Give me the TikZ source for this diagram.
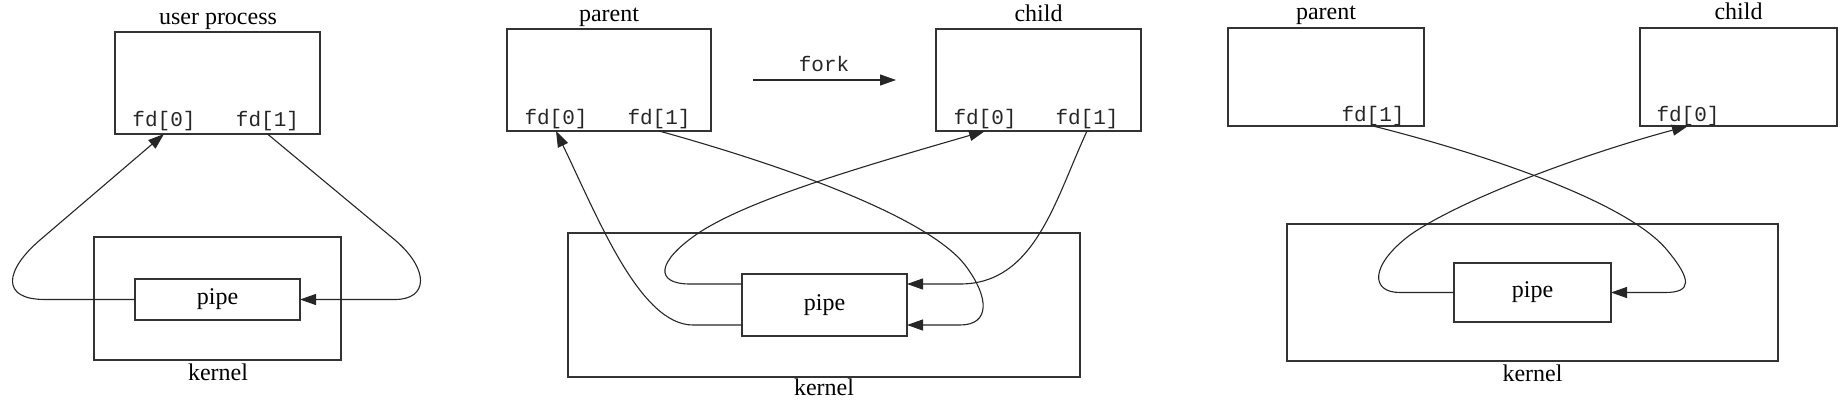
\documentclass[tikz,border=0pt]{standalone}
\usepackage{fontspec}
\setmainfont{Liberation Serif}
\setmonofont{Liberation Mono}
\usetikzlibrary{arrows.meta}
\begin{document}
\begin{tikzpicture}[x=1pt,y=-1pt,
  box/.style={draw=black!80,line width=1.2pt,inner sep=0pt,outer sep=0pt},
  pipebox/.style={box,font=\fontsize{24}{28}\selectfont},
  lbl/.style={font=\fontsize{24}{28}\selectfont,inner sep=0pt,anchor=base},
  fdl/.style={font=\ttfamily\fontsize{21}{24}\selectfont,inner sep=0pt,anchor=base,text=black!85},
  wire/.style={draw=black!85,line width=1.1pt},
  arr/.style={wire,-{Triangle[length=16pt,width=11pt]}}]
\useasboundingbox (0,0) rectangle (1842,402);

% ---------- panel 1 ----------
\node[box,minimum width=205pt,minimum height=102pt] (up) at (217.5,83) {};
\node[lbl] (upl) at (218,24) {user process};
\node[fdl] (a0) at (164,126) {fd[0]};
\node[fdl] (a1) at (267.5,126) {fd[1]};
\node[box,minimum width=247pt,minimum height=123pt] (k1) at (217.5,298.5) {};
\node[lbl] (k1l) at (218,380) {kernel};
\node[pipebox,minimum width=165pt,minimum height=41pt] (p1) at (217.5,299.5) {pipe};
\draw[arr] (p1.west) -- (45,299.5) .. controls (0,299.5) and (5,270) .. (40,240) -- (a0 |- up.south);
\draw[arr] (a1 |- up.south) -- (395,240) .. controls (430,270) and (428,299.5) .. (395,299.5) -- (p1.east);

% ---------- panel 2 ----------
\node[box,minimum width=204pt,minimum height=102pt] (par) at (609,80) {};
\node[lbl] (parl) at (609,21) {parent};
\node[fdl] (b0) at (556,124) {fd[0]};
\node[fdl] (b1) at (659,124) {fd[1]};
\node[box,minimum width=205pt,minimum height=102pt] (chi) at (1038.5,80) {};
\node[lbl] (chil) at (1038.5,21) {child};
\node[fdl] (c0) at (985,124) {fd[0]};
\node[fdl] (c1) at (1087,124) {fd[1]};
\node[fdl] (fk) at (824,71) {fork};
\coordinate (fka) at (753,80);
\coordinate (fkb) at (896,80);
\draw[arr] (fka) -- (fkb);
\node[box,minimum width=512pt,minimum height=144pt] (k2) at (824,305) {};
\node[lbl] (k2l) at (824,395) {kernel};
\node[pipebox,minimum width=165pt,minimum height=62pt] (p2) at (824.5,305) {pipe};
\path (p2.west) ++(0,-21) coordinate (p2wu);
\path (p2.west) ++(0,20) coordinate (p2wl);
\path (p2.east) ++(0,-21) coordinate (p2eu);
\path (p2.east) ++(0,20) coordinate (p2el);
\draw[arr] (p2wl) -- (693,325) .. controls (640,325) and (598,218) .. (b0 |- par.south);
\draw[arr] (p2wu) -- (690,284) .. controls (655,284) and (655,262) .. (700,232)
  .. controls (750,200) and (850,170) .. (c0 |- chi.south);
\draw[arr] (b1 |- par.south) .. controls (800,170) and (930,220) .. (965,265)
  .. controls (990,298) and (990,325) .. (960,325) -- (p2el);
\draw[arr] (c1 |- chi.south) .. controls (1055,200) and (1035,284) .. (960,284) -- (p2eu);

% ---------- panel 3 ----------
\node[box,minimum width=196pt,minimum height=98pt] (par3) at (1326,77) {};
\node[lbl] (par3l) at (1326,19) {parent};
\node[fdl] (d1) at (1373,121) {fd[1]};
\node[box,minimum width=197pt,minimum height=98pt] (chi3) at (1738.5,77) {};
\node[lbl] (chi3l) at (1738.5,19) {child};
\node[fdl] (e0) at (1688,121) {fd[0]};
\node[box,minimum width=491pt,minimum height=137pt] (k3) at (1532.5,292.5) {};
\node[lbl] (k3l) at (1532.5,381) {kernel};
\node[pipebox,minimum width=157pt,minimum height=59pt] (p3) at (1532.5,292.5) {pipe};
\draw[arr] (d1 |- par3.south) .. controls (1500,158) and (1630,205) .. (1667,250)
  .. controls (1692,280) and (1692,292.5) .. (1665,292.5) -- (p3.east);
\draw[arr] (p3.west) -- (1400,292.5) .. controls (1370,292.5) and (1370,265) .. (1410,235)
  .. controls (1460,200) and (1580,155) .. (e0 |- chi3.south);
\end{tikzpicture}
\end{document}
